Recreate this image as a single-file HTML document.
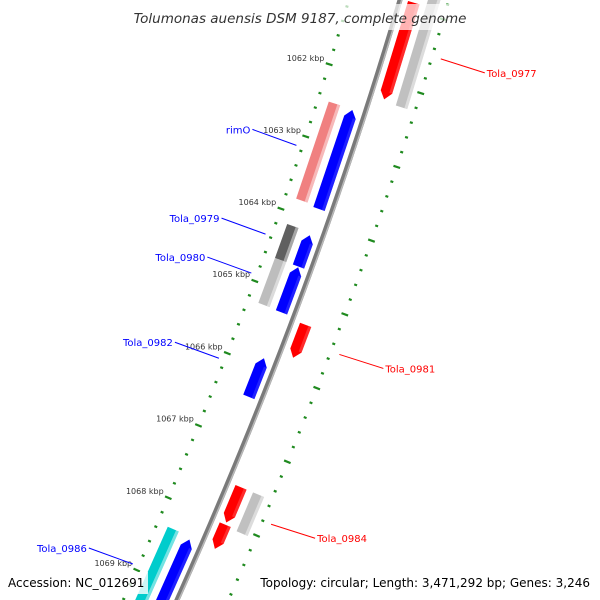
<!DOCTYPE html>
<html><head><meta charset="utf-8"><style>
html,body{margin:0;padding:0;background:#fff;overflow:hidden}
svg{display:block}
text{font-family:"DejaVu Sans","Liberation Sans",sans-serif}
</style></head><body>
<svg id="chart" width="600" height="600" viewBox="0 0 600 600" xmlns="http://www.w3.org/2000/svg">
<g id="ticks"></g>
<g id="backbone"></g>
<g id="features"></g>
<g id="labels"></g>
<rect x="125" y="4" width="350" height="26" fill="#fff" opacity="0.7"/>
<text x="300" y="23" text-anchor="middle" font-size="13.5" font-style="italic" fill="#333">Tolumonas auensis DSM 9187, complete genome</text>
<rect x="4" y="572" width="144" height="22" fill="#fff" opacity="0.8"/>
<text x="8" y="587" font-size="12" fill="#000">Accession: NC_012691</text>
<rect x="256" y="572" width="340" height="22" fill="#fff" opacity="0.8"/>
<text x="590" y="587" text-anchor="end" font-size="12" fill="#000">Topology: circular; Length: 3,471,292 bp; Genes: 3,246</text>
</svg>
<script>
const featStart=[1060.9,1060.63,1062.47,1062.48,1064.16,1064.2,1064.63,1064.64,1065.3,1065.89,1067.52,1067.52,1068.03,1068.34,1068.38];
const featEnd=[1062.22,1062.25,1063.81,1063.84,1064.63,1064.63,1065.25,1065.26,1065.75,1066.42,1068.0,1068.05,1068.36,1069.5,1069.5];
const featLane=[1,2,-2,-1,-2,-1,-2,-1,1,-1,1,2,1,-2,-1];
const featColor=["#ff0000","#c0c0c0","#f08080","#0000ff","#606060","#0000ff","#bdbdbd","#0000ff","#ff0000","#0000ff","#ff0000","#c0c0c0","#ff0000","#00cccc","#0000ff"];
const featArrow=[1,0,0,-1,0,-1,0,-1,1,-1,1,0,1,0,-1];
const tickLabels=[1062,1063,1064,1065,1066,1067,1068,1069];
const geneNames=["Tola_0977","rimO","Tola_0979","Tola_0980","Tola_0982","Tola_0981","Tola_0984","Tola_0986"];
const geneK=[1061.5,1063.15,1064.38,1064.92,1066.1,1065.5,1067.8,1068.95];
const geneLane=[2,-2,-2,-2,-1,1,2,-2];
const geneColor=["#ff0000","#0000ff","#0000ff","#0000ff","#0000ff","#ff0000","#ff0000","#0000ff"];
const NS="http://www.w3.org/2000/svg";
function P(k,off){const yb=79+73*(k-1062);const xb=400-0.295*yb-1.278e-4*yb*yb;const s=-0.295-2*1.278e-4*yb;const L=Math.sqrt(1+s*s);return [xb+off/L,yb-off*s/L];}
function mk(tag,attrs,parent){const e=document.createElementNS(NS,tag);for(const a in attrs)e.setAttribute(a,attrs[a]);parent.appendChild(e);return e;}
const gT=document.getElementById('ticks'),gB=document.getElementById('backbone'),gF=document.getElementById('features'),gL=document.getElementById('labels');
let pts=[];for(let k=1060.4;k<=1069.8;k+=0.1){pts.push(P(k,0).join(','));}
let bb=mk('polyline',{points:pts.join(' '),fill:'none',stroke:'#7a7a7a','stroke-width':5},gB);


let pts2=[];for(let k=1060.4;k<=1069.8;k+=0.1){pts2.push(P(k,1.6).join(','));}
let bb2=mk('polyline',{points:pts2.join(' '),fill:'none',stroke:'#b8b8b8','stroke-width':1.5},gB);


for(let i=0;i<=50;i++){const k=1060.4+i*0.2;const major=Math.abs(k-Math.round(k))<0.01;
 [-49,47].forEach(side=>{const h=major?3.5:1.5;const a=P(k,side-h),b=P(k,side+h);
  const t=mk('line',{x1:a[0],y1:a[1],x2:b[0],y2:b[1],stroke:'#1f8a1f','stroke-width':2.2},gT);
  
  });}
tickLabels.forEach(k=>{const p=P(k,-54);const t=mk('text',{x:p[0],y:p[1]-2,'text-anchor':'end','font-size':8,fill:'#333'},gL);t.textContent=k+' kbp';
 
 });
const laneOff={1:14,2:33,'-1':-13,'-2':-32};const hw=6,head=0.1;
function lighten(c){return c==="#0000ff"?"#4a4aff":c==="#ff0000"?"#ff6060":"#ffffff";}
featStart.forEach((s,i)=>{const e=featEnd[i],o=laneOff[featLane[i]],ar=featArrow[i];
 let poly=[];
 if(ar===1){poly=[P(s,o-hw),P(e-head,o-hw),P(e,o),P(e-head,o+hw),P(s,o+hw)];}
 else if(ar===-1){poly=[P(s+head,o-hw),P(s,o),P(s+head,o+hw),P(e,o+hw),P(e,o-hw)];}
 else{poly=[P(s,o-hw),P(e,o-hw),P(e,o+hw),P(s,o+hw)];}
 const f=mk('polygon',{points:poly.map(p=>p.join(',')).join(' '),fill:featColor[i]},gF);
 
 
 const s2=ar===-1?s+head:s,e2=ar===1?e-head:e;
 const st=[P(s2,o+hw-3),P(e2,o+hw-3),P(e2,o+hw),P(s2,o+hw)];
 const hl=mk('polygon',{points:st.map(p=>p.join(',')).join(' '),fill:lighten(featColor[i]),opacity:0.45},gF);
 
 });
geneNames.forEach((n,i)=>{const right=geneLane[i]>0;
 const a=P(geneK[i],right?56:-55);const b=[a[0]+(right?44:-44),a[1]+(right?14:-16)];
 const l=mk('line',{x1:a[0],y1:a[1],x2:b[0],y2:b[1],stroke:geneColor[i],'stroke-width':1},gL);
 
 
 const t=mk('text',{x:b[0]+(right?2:-2),y:b[1]+4,'text-anchor':right?'start':'end','font-size':10,fill:geneColor[i]},gL);
 t.textContent=n;
 
 });
</script>
</body></html>
